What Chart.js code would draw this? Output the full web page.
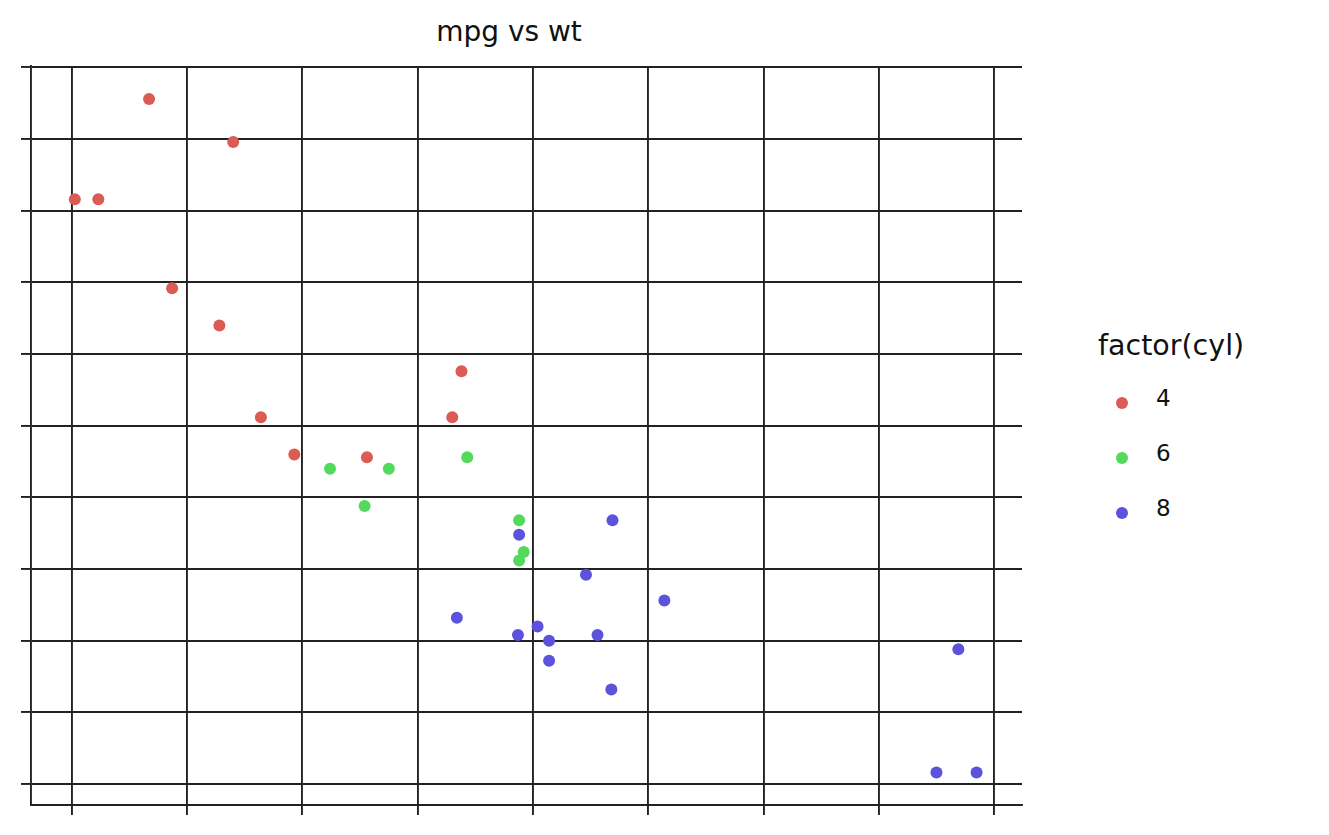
<!DOCTYPE html>
<html>
<head>
<meta charset="utf-8">
<script src="https://cdn.jsdelivr.net/npm/chart.js@4"></script>
<style>
  body { margin: 0; background: #fff; font-family: "DejaVu Sans", sans-serif; }
  #wrap { position: absolute; left: 0; top: 0; width: 1040px; height: 835px; }
  #title { position: absolute; left: 0; width: 1018px; top: 15px; text-align: center; font-size: 28px; color: #111; }
  #legend { position: absolute; left: 1098px; top: 329px; font-size: 28.5px; color: #111; }
  .item { position: relative; height: 55px; font-size: 23px; }
  .dot { position: absolute; left: 18px; top: 15px; width: 12px; height: 12px; border-radius: 50%; }
  .lab { position: absolute; left: 58px; top: 3px; }
</style>
</head>
<body>
<div id="title">mpg vs wt</div>
<div id="wrap"><canvas id="chart"></canvas></div>
<div id="legend">
  <div style="height:53px">factor(cyl)</div>
</div>
<script>
const cylLevels = ['4', '6', '8'];
const cylColors = ['#da5c54', '#53d95c', '#5d52dc'];

const wt4 = [2.32, 3.19, 3.15, 2.2, 1.615, 1.835, 2.465, 1.935, 2.14, 1.513, 2.78];
const mpg4 = [22.8, 24.4, 22.8, 32.4, 30.4, 33.9, 21.5, 27.3, 26.0, 30.4, 21.4];
const wt6 = [2.62, 2.875, 3.215, 3.46, 3.44, 3.44, 2.77];
const mpg6 = [21.0, 21.0, 21.4, 18.1, 19.2, 17.8, 19.7];
const wt8 = [3.44, 3.57, 4.07, 3.73, 3.78, 5.25, 5.424, 5.345, 3.52, 3.435, 3.84, 3.845, 3.17, 3.57];
const mpg8 = [18.7, 14.3, 16.4, 17.3, 15.2, 10.4, 10.4, 14.7, 15.5, 15.2, 13.3, 19.2, 15.8, 15.0];

const xTicks = [1.5, 2, 2.5, 3, 3.5, 4, 4.5, 5, 5.5];
const yTicks = [10, 12.5, 15, 17.5, 20, 22.5, 25, 27.5, 30, 32.5, 35];

function pts(xs, ys) {
  return xs.map((x, i) => ({ x: x, y: ys[i] }));
}

const groups = [pts(wt4, mpg4), pts(wt6, mpg6), pts(wt8, mpg8)];

const legend = document.getElementById('legend');
cylLevels.forEach((c, i) => {
  const d = document.createElement('div');
  d.className = 'item';
  d.innerHTML = '<span class="dot" style="background:' + cylColors[i] + '"></span><span class="lab">' + c + '</span>';
  legend.appendChild(d);
});

const gridOpts = { color: '#222', lineWidth: 1.9, tickLength: 10, tickColor: '#222', drawTicks: true };

new Chart(document.getElementById('chart'), {
  type: 'scatter',
  data: {
    datasets: groups.map((g, i) => ({
      label: cylLevels[i],
      data: g,
      backgroundColor: cylColors[i],
      borderWidth: 0,
      pointRadius: 6
    }))
  },
  options: {
    responsive: true,
    maintainAspectRatio: false,
    animation: false,
    layout: { padding: { left: 21, top: 66, right: 18, bottom: 20 } },
    plugins: { legend: { display: false }, tooltip: { enabled: false } },
    scales: {
      x: {
        type: 'linear', min: 1.323, max: 5.621,
        afterBuildTicks: ax => { ax.ticks = xTicks.map(v => ({ value: v })); },
        ticks: { display: false },
        grid: gridOpts,
        border: { display: true, color: '#222', width: 1.9 }
      },
      y: {
        type: 'linear', min: 9.27, max: 35.05,
        afterBuildTicks: ax => { ax.ticks = yTicks.map(v => ({ value: v })); },
        ticks: { display: false },
        grid: gridOpts,
        border: { display: true, color: '#222', width: 1.9 }
      }
    }
  }
});
</script>
</body>
</html>
